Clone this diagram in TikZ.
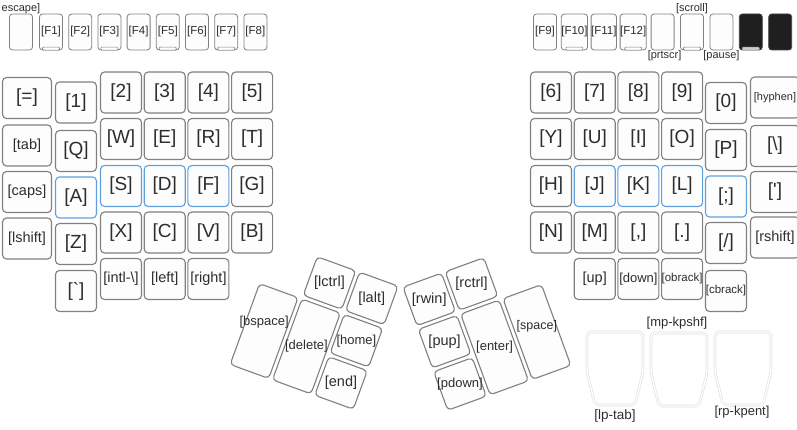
\documentclass[tikz,border=0pt]{standalone}
\usepackage{fontspec}
\setmainfont{Liberation Sans}
\usepackage{xcolor}
\usetikzlibrary{positioning}

\definecolor{keyline}{RGB}{128,128,128}
\definecolor{keyfill}{RGB}{253,253,253}
\definecolor{keytext}{RGB}{45,45,45}
\definecolor{homeline}{RGB}{95,160,220}
\definecolor{pedalline}{RGB}{222,222,222}

\begin{document}
\begin{tikzpicture}[x=1pt, y=-1pt, node distance={43.7pt},
    key/.style = {draw=keyline, fill=keyfill, line width=1.1pt, rounded corners=4pt, minimum width=41pt, minimum height=41pt, inner sep=0pt, text=keytext, font=\fontsize{19}{19}\selectfont},
    wide/.style = {key, minimum width=49pt},
    homerow/.style = {key, draw=homeline},
    mid/.style = {font=\fontsize{14.5}{14.5}\selectfont},
    midl/.style = {font=\fontsize{13}{13}\selectfont},
    small/.style = {font=\fontsize{11.5}{11.5}\selectfont},
    tiny/.style = {font=\fontsize{11}{11}\selectfont},
    fkey/.style = {key, line width=0.8pt, minimum width=23pt, minimum height=36pt, rounded corners=3pt, font=\fontsize{11.5}{11.5}\selectfont},
    blk/.style = {fkey, fill=black!88, draw=black!75},
    led/.style = {draw=keyline, fill=white, line width=0.6pt, rounded corners=1pt, minimum width=17pt, minimum height=3pt, inner sep=0pt},
    thumb/.style = {draw=keyline, fill=keyfill, line width=1.1pt, rounded corners=4pt, minimum width=41pt, minimum height=41pt, inner sep=0pt},
    tall/.style = {thumb, minimum height=86pt},
    tlbl/.style = {text=keytext, inner sep=0pt, font=\fontsize{14.5}{14.5}\selectfont},
    caption/.style = {text=keytext, inner sep=0pt, font=\fontsize{11}{11}\selectfont},
    pedal/.style = {draw=pedalline, double=white, double distance=1.4pt, line width=0.6pt, rounded corners=4pt}]

    \useasboundingbox (0,0) rectangle (797,430);

    % function row, left half
    \begin{scope}[node distance={29.2pt}]
        \node[fkey] (esc) at (21,32) {};
        \node[fkey] (f1) at (51,32) {[F1]};
        \node[fkey] (f2) [right of = f1] {[F2]};
        \node[fkey] (f3) [right of = f2] {[F3]};
        \node[fkey] (f4) [right of = f3] {[F4]};
        \node[fkey] (f5) [right of = f4] {[F5]};
        \node[fkey] (f6) [right of = f5] {[F6]};
        \node[fkey] (f7) [right of = f6] {[F7]};
        \node[fkey] (f8) [right of = f7] {[F8]};
    \end{scope}
    \node[caption, anchor=south] (esclbl) at (esc.north) {escape]};
    \node[led] (led1) at ([yshift=1.8pt]f1.south) {};
    \node[led] (led3) at ([yshift=1.8pt]f3.south) {};
    \node[led] (led5) at ([yshift=1.8pt]f5.south) {};
    \node[led] (led7) at ([yshift=1.8pt]f7.south) {};

    % function row, right half
    \begin{scope}[node distance={29.4pt}]
        \node[fkey] (f9) at (545,32) {[F9]};
        \node[fkey] (f10) [right of = f9] {[F10]};
        \node[fkey] (f11) [right of = f10] {[F11]};
        \node[fkey] (f12) [right of = f11] {[F12]};
        \node[fkey] (prt) [right of = f12] {};
        \node[fkey] (scr) [right of = prt] {};
        \node[fkey] (pau) [right of = scr] {};
        \node[blk] (blk1) [right of = pau] {};
        \node[blk] (blk2) [right of = blk1] {};
    \end{scope}
    \node[caption, anchor=south] (scrlbl) at (scr.north) {[scroll]};
    \node[caption, anchor=north] (prtlbl) at ([xshift=2pt]prt.south) {[prtscr]};
    \node[caption, anchor=north] (paulbl) at (pau.south) {[pause]};
    \node[led] (led10) at ([yshift=1.8pt]f10.south) {};
    \node[led] (led12) at ([yshift=1.8pt]f12.south) {};
    \node[led] (ledscr) at ([yshift=1.8pt]scr.south) {};
    \node[led, draw=gray!70, fill=gray!40] (ledblk) at ([yshift=1.8pt]blk1.south) {};

    % left hand
    \node[wide] (eq) at (27,98) {[=]};
    \node[key] (k1) at (76,102.5) {[1]};
    \node[key] (k2) at (121,92.5) {[2]};
    \node[key] (k3) [right of = k2] {[3]};
    \node[key] (k4) [right of = k3] {[4]};
    \node[key] (k5) [right of = k4] {[5]};

    \node[wide, mid] (tab) at (27,145.5) {[tab]};
    \node[key] (q) at (76,151) {[Q]};
    \node[key] (w) at (121,139) {[W]};
    \node[key] (e) [right of = w] {[E]};
    \node[key] (r) [right of = e] {[R]};
    \node[key] (t) [right of = r] {[T]};

    \node[wide, mid] (caps) at (27,192) {[caps]};
    \node[homerow] (a) at (76,197.5) {[A]};
    \node[homerow] (s) at (121,186) {[S]};
    \node[homerow] (d) [right of = s] {[D]};
    \node[homerow] (f) [right of = d] {[F]};
    \node[key] (g) [right of = f] {[G]};

    \node[wide, mid] (lshift) at (27,238.5) {[lshift]};
    \node[key] (z) at (76,244) {[Z]};
    \node[key] (x) at (121,232.5) {[X]};
    \node[key] (c) [right of = x] {[C]};
    \node[key] (v) [right of = c] {[V]};
    \node[key] (b) [right of = v] {[B]};

    \node[key] (grave) at (76,291) {[\textasciigrave]};
    \node[key, mid] (intl) at (121,279) {[intl-\textbackslash]};
    \node[key, mid] (left) [right of = intl] {[left]};
    \node[key, mid] (right) [right of = left] {[right]};

    % right hand
    \node[key] (k6) at (551,92.5) {[6]};
    \node[key] (k7) [right of = k6] {[7]};
    \node[key] (k8) [right of = k7] {[8]};
    \node[key] (k9) [right of = k8] {[9]};
    \node[key] (k0) at (726,103) {[0]};
    \node[wide, tiny] (hyphen) at (775,97.5) {[hyphen]};

    \node[key] (y) at (551,139) {[Y]};
    \node[key] (u) [right of = y] {[U]};
    \node[key] (i) [right of = u] {[I]};
    \node[key] (o) [right of = i] {[O]};
    \node[key] (p) at (726,150) {[P]};
    \node[wide] (bslash) at (775,146) {[\textbackslash]};

    \node[key] (h) at (551,186) {[H]};
    \node[homerow] (j) [right of = h] {[J]};
    \node[homerow] (k) [right of = j] {[K]};
    \node[homerow] (l) [right of = k] {[L]};
    \node[homerow] (semi) at (726,196.5) {[;]};
    \node[wide] (quote) at (775,192) {[\textquotesingle]};

    \node[key] (n) at (551,232.5) {[N]};
    \node[key] (m) [right of = n] {[M]};
    \node[key] (comma) [right of = m] {[,]};
    \node[key] (period) [right of = comma] {[.]};
    \node[key] (slash) at (726,243) {[/]};
    \node[wide, mid] (rshift) at (775,237.5) {[rshift]};

    \node[key, mid] (up) at (594.7,279) {[up]};
    \node[key, midl] (down) [right of = up] {[down]};
    \node[key, small] (obrack) [right of = down] {[obrack]};
    \node[key, small] (cbrack) at (726,291) {[cbrack]};

    % left thumb cluster
    \begin{scope}[shift={(329.5,283)}, rotate=-20]
        \node[thumb, rotate=-20] (lctrl) at (0,0) {};
        \node[thumb, rotate=-20] (lalt) at (45,0) {};
        \node[thumb, rotate=-20] (khome) at (45,45) {};
        \node[thumb, rotate=-20] (kend) at (45,90) {};
        \node[tall, rotate=-20] (kdel) at (0,67.5) {};
        \node[tall, rotate=-20] (kbsp) at (-45,67.5) {};
    \end{scope}
    \node[tlbl] (lctrllbl) at (lctrl) {[lctrl]};
    \node[tlbl] (laltlbl) at (lalt) {[lalt]};
    \node[tlbl, midl] (homelbl) at (khome) {[home]};
    \node[tlbl] (endlbl) at (kend) {[end]};
    \node[tlbl, midl] (dellbl) at (kdel) {[delete]};
    \node[tlbl, midl] (bsplbl) at ([yshift=9pt]kbsp.center) {[bspace]};

    % right thumb cluster
    \begin{scope}[shift={(471.5,284)}, rotate=20]
        \node[thumb, rotate=20] (rctrl) at (0,0) {};
        \node[thumb, rotate=20] (rwin) at (-45,0) {};
        \node[thumb, rotate=20] (pup) at (-45,45) {};
        \node[thumb, rotate=20] (pdown) at (-45,90) {};
        \node[tall, rotate=20] (enter) at (0,67.5) {};
        \node[tall, rotate=20] (space) at (45,67.5) {};
    \end{scope}
    \node[tlbl] (rctrllbl) at (rctrl) {[rctrl]};
    \node[tlbl] (rwinlbl) at (rwin) {[rwin]};
    \node[tlbl] (puplbl) at (pup) {[pup]};
    \node[tlbl, midl] (pdownlbl) at (pdown) {[pdown]};
    \node[tlbl, midl] (enterlbl) at (enter) {[enter]};
    \node[tlbl, font=\fontsize{12.5}{12.5}\selectfont] (spacelbl) at ([yshift=6pt]space.center) {[space]};

    % pedals
    \draw[pedal] (587,332) -- ++(56,0) -- ++(0,40) -- ++(-8,33) -- ++(-40,0) -- ++(-8,-33) -- cycle;
    \draw[pedal] (651,333) -- ++(56,0) -- ++(0,40) -- ++(-8,33) -- ++(-40,0) -- ++(-8,-33) -- cycle;
    \draw[pedal] (715,332) -- ++(56,0) -- ++(0,40) -- ++(-8,33) -- ++(-40,0) -- ++(-8,-33) -- cycle;
    \node[tlbl, font=\fontsize{13.5}{13.5}\selectfont] (lptab) at (615,416) {[lp-tab]};
    \node[tlbl, font=\fontsize{13}{13}\selectfont] (mpkpshf) at (677,323) {[mp-kpshf]};
    \node[tlbl, font=\fontsize{13}{13}\selectfont] (rpkpent) at (742,412) {[rp-kpent]};
\end{tikzpicture}
\end{document}
